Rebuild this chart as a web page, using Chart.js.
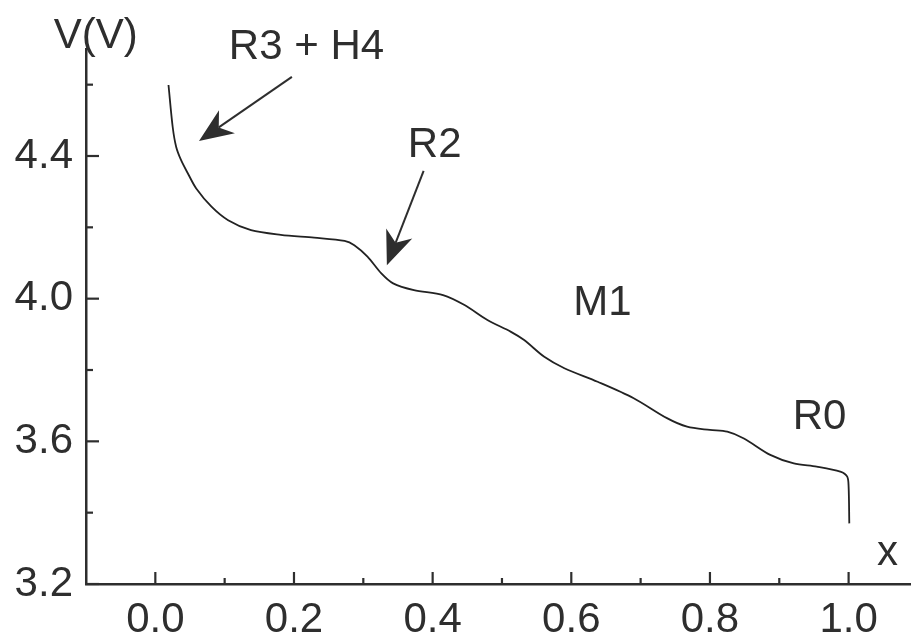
<!DOCTYPE html>
<html>
<head>
<meta charset="utf-8">
<script src="https://cdn.jsdelivr.net/npm/chart.js@4/dist/chart.umd.min.js"></script>
<style>
  html, body { margin: 0; padding: 0; background: #fff; overflow: hidden; }
  #wrap { width: 911px; height: 638px; }
</style>
</head>
<body>
<div id="wrap"><canvas id="c" width="911" height="638"></canvas></div>
<script>
// ---- data ----
const xValues = [0.019, 0.025, 0.030, 0.037, 0.047, 0.059, 0.081, 0.105, 0.138, 0.181,
                 0.229, 0.273, 0.287, 0.306, 0.326, 0.343, 0.373, 0.415, 0.446, 0.479,
                 0.513, 0.532, 0.561, 0.590, 0.638, 0.690, 0.738, 0.767, 0.800, 0.825,
                 0.849, 0.887, 0.921, 0.954, 0.988, 0.998, 1.000, 1.001];
const vValues = [4.599, 4.482, 4.426, 4.389, 4.351, 4.309, 4.258, 4.220, 4.192, 4.179,
                 4.171, 4.162, 4.150, 4.118, 4.071, 4.043, 4.024, 4.010, 3.982, 3.940,
                 3.907, 3.884, 3.837, 3.805, 3.767, 3.721, 3.665, 3.641, 3.632, 3.627,
                 3.608, 3.562, 3.538, 3.529, 3.515, 3.501, 3.473, 3.370];
const xTickValues = [0.0, 0.1, 0.2, 0.3, 0.4, 0.5, 0.6, 0.7, 0.8, 0.9, 1.0];
const xTickLabels = ['0.0', '', '0.2', '', '0.4', '', '0.6', '', '0.8', '', '1.0'];
const yTickValues = [3.2, 3.4, 3.6, 3.8, 4.0, 4.2, 4.4, 4.6];
const yTickLabels = ['3.2', '', '3.6', '', '4.0', '', '4.4', ''];
const annLabels = ['R3 + H4', 'R2', 'M1', 'R0', 'V(V)', 'x'];
const annX = [0.218, 0.403, 0.645, 0.958, -0.086, 1.056];
const annY = [4.714, 4.439, 3.996, 3.677, 4.746, 3.284];
const arrowTailX = [0.197, 0.387];
const arrowTailY = [4.622, 4.358];
const arrowTipX = [0.063, 0.334];
const arrowTipY = [4.442, 4.094];

const INK = '#2e2e2e';
const FONT = '"Liberation Sans", Arial, sans-serif';

const points = xValues.map((x, i) => ({ x: x, y: vValues[i] }));

const decorPlugin = {
  id: 'decor',
  afterDraw(chart) {
    const ctx = chart.ctx;
    const xs = chart.scales.x, ys = chart.scales.y;
    const area = chart.chartArea;
    ctx.save();
    // inward tick marks
    ctx.strokeStyle = INK;
    ctx.lineWidth = 2.2;
    xTickValues.forEach((v, i) => {
      const px = xs.getPixelForValue(v);
      const len = xTickLabels[i] ? 12 : 6;
      ctx.beginPath();
      ctx.moveTo(px, area.bottom);
      ctx.lineTo(px, area.bottom - len);
      ctx.stroke();
    });
    yTickValues.forEach((v, i) => {
      const py = ys.getPixelForValue(v);
      const len = yTickLabels[i] ? 13 : 7;
      ctx.beginPath();
      ctx.moveTo(area.left, py);
      ctx.lineTo(area.left + len, py);
      ctx.stroke();
    });
    // annotation texts
    ctx.fillStyle = INK;
    ctx.textAlign = 'center';
    ctx.textBaseline = 'alphabetic';
    annLabels.forEach((t, i) => {
      const size = 42;
      ctx.font = size + 'px ' + FONT;
      const px = xs.getPixelForValue(annX[i]);
      const py = ys.getPixelForValue(annY[i]);
      const off = (t === 'x') ? 0.26 * size : 0.358 * size;
      ctx.fillText(t, px, py + off);
    });
    // arrows
    arrowTailX.forEach((tx, i) => {
      const x0 = xs.getPixelForValue(tx), y0 = ys.getPixelForValue(arrowTailY[i]);
      const x1 = xs.getPixelForValue(arrowTipX[i]), y1 = ys.getPixelForValue(arrowTipY[i]);
      const ang = Math.atan2(y1 - y0, x1 - x0);
      const headLen = 34, headW = 14, notch = 24;
      const bx = x1 - Math.cos(ang) * notch, by = y1 - Math.sin(ang) * notch;
      ctx.strokeStyle = INK;
      ctx.lineWidth = 2;
      ctx.beginPath();
      ctx.moveTo(x0, y0);
      ctx.lineTo(bx, by);
      ctx.stroke();
      const hx = x1 - Math.cos(ang) * headLen, hy = y1 - Math.sin(ang) * headLen;
      const nx = -Math.sin(ang), ny = Math.cos(ang);
      ctx.fillStyle = INK;
      ctx.beginPath();
      ctx.moveTo(x1, y1);
      ctx.lineTo(hx + nx * headW, hy + ny * headW);
      ctx.lineTo(bx, by);
      ctx.lineTo(hx - nx * headW, hy - ny * headW);
      ctx.closePath();
      ctx.fill();
    });
    ctx.restore();
  }
};

new Chart(document.getElementById('c'), {
  type: 'line',
  data: {
    datasets: [{
      data: points,
      borderColor: '#222222',
      borderWidth: 1.8,
      pointRadius: 0,
      tension: 0.3,
      fill: false
    }]
  },
  options: {
    responsive: false,
    animation: false,
    devicePixelRatio: 1,
    layout: { padding: { top: 49, right: 0, left: 0, bottom: 0 } },
    plugins: { legend: { display: false }, tooltip: { enabled: false } },
    scales: {
      x: {
        type: 'linear',
        min: -0.1,
        max: 1.09,
        afterBuildTicks(scale) { scale.ticks = xTickValues.map(v => ({ value: v })); },
        afterFit(scale) { scale.height = 54; },
        grid: { display: false, drawTicks: false },
        border: { display: true, color: INK, width: 2.5 },
        ticks: {
          autoSkip: false,
          maxRotation: 0,
          padding: 11,
          color: INK,
          font: { family: FONT, size: 42 },
          callback(v, i) { return xTickLabels[i]; }
        }
      },
      y: {
        type: 'linear',
        min: 3.2,
        max: 4.7,
        afterBuildTicks(scale) { scale.ticks = yTickValues.map(v => ({ value: v })); },
        afterFit(scale) { scale.width = 86; },
        grid: { display: false, drawTicks: false },
        border: { display: true, color: INK, width: 2.5 },
        ticks: {
          autoSkip: false,
          padding: 13,
          color: INK,
          font: { family: FONT, size: 42 },
          callback(v, i) { return yTickLabels[i]; }
        }
      }
    }
  },
  plugins: [decorPlugin]
});
</script>
</body>
</html>
